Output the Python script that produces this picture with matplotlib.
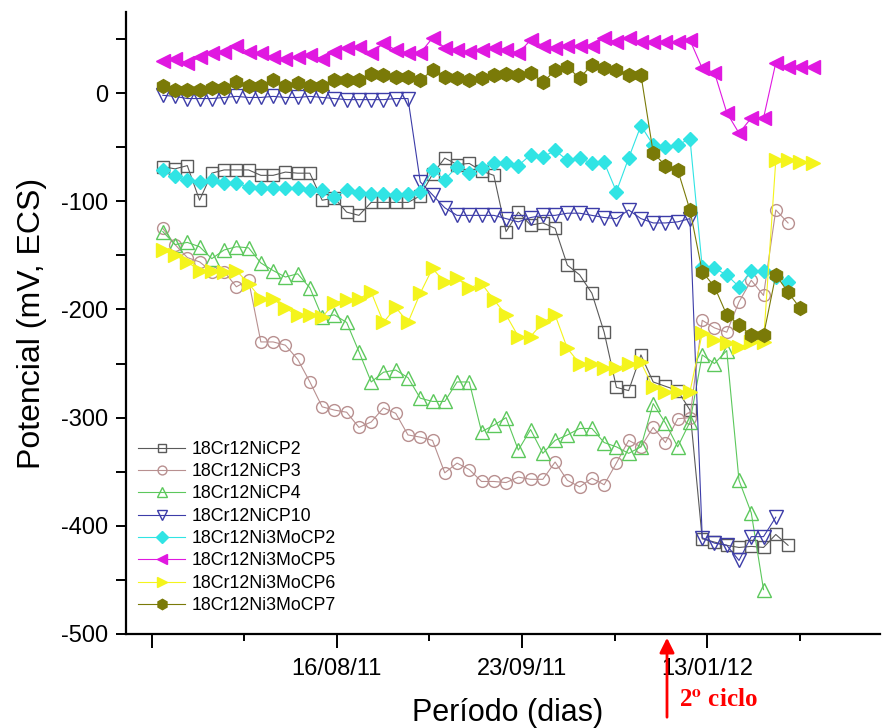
import matplotlib
matplotlib.use("Agg")
import matplotlib.pyplot as plt
from matplotlib.ticker import MultipleLocator, FixedLocator
import numpy as np

plt.rcParams['font.family'] = ['Liberation Sans', 'DejaVu Sans']
plt.rcParams['mathtext.fontset'] = 'stix'
plt.rcParams['axes.unicode_minus'] = False

# potencial (mV vs ECS) de cada probeta, una lectura por dia de medida
cp2_ni = [-68, -70, -67, -99, -74, -71, -71, -71, -76, -76, -73, -74, -74, -99, -97,
          -110, -113, -101, -101, -101, -101,
          -95, -75, -60, -66, -65, -72, -76, -128, -110, -122, -120, -125, -159, -168,
          -185, -221, -272, -275, -242, -267, -271, -275, -293,
          -412, -415, -418, -420, -419, -420, -408, -418]
cp3_ni = [-125, -140, -152, -156, -165, -165, -179, -173, -230, -230, -233, -246, -267,
          -290, -293, -295, -309, -304, -291, -296, -316,
          -318, -321, -351, -342, -348, -359, -359, -360, -355, -357, -357, -341, -358,
          -364, -356, -362, -342, -321, -327, -309, -323, -301, -300,
          -210, -217, -221, -193, -173, -187, -108, -120]
cp4_ni = [-128, -140, -138, -142, -153, -145, -142, -143, -157, -164, -170, -167, -180,
          -207, -205, -212, -239, -267, -258, -256, -263,
          -282, -285, -285, -267, -267, -313, -307, -300, -330, -311, -333, -321, -316,
          -310, -310, -323, -327, -333, -327, -287, -305, -327, -304,
          -242, -250, -238, -358, -388, -459]
cp10_ni = [-2, -3, -5, -5, -5, -4, -3, -4, -4, -3, -4, -4, -3, -4, -5, -6, -6, -6, -6, -5, -5,
           -82, -94, -106, -113, -113, -113, -113, -116, -119, -115, -113, -113, -111,
           -111, -113, -115, -116, -108, -116, -120, -120, -119, -116,
           -411, -416, -418, -432, -410, -410, -392]
cp2_mo = [-71, -77, -80, -82, -80, -83, -83, -87, -88, -88, -88, -88, -90, -90, -96, -90,
          -92, -93, -93, -94, -93,
          -91, -71, -80, -68, -74, -69, -65, -65, -67, -57, -59, -53, -62, -60, -65, -64,
          -91, -60, -30, -48, -50, -48, -42,
          -161, -162, -168, -179, -164, -164, -170, -175]
cp5_mo = [30, 32, 28, 33, 37, 38, 44, 38, 37, 33, 32, 33, 35, 32, 38, 42, 43, 37, 46, 40,
          37, 37, 51,
          42, 40, 38, 40, 42, 40, 37, 49, 44, 42, 44, 44, 44, 51, 47, 51, 47, 47, 47, 47, 49,
          23, 19, -18, -37, -23, -23, 28, 24, 24, 24]
cp6_mo = [-145, -150, -156, -164, -164, -165, -164, -176, -190, -190, -199, -205, -205,
          -207, -194, -191, -190, -184, -212, -198, -212, -185, -162, -175, -171, -180,
          -176, -191,
          -205, -225, -225, -212, -205, -236, -250, -250, -254, -254, -250, -249, -272,
          -276, -276, -276, -222, -228, -231, -235, -230, -230, -62, -62, -64, -65]
cp7_mo = [7, 3, 3, 3, 5, 5, 10, 7, 7, 12, 7, 9, 7, 7, 12, 12, 12, 18, 17, 15, 15,
          12, 21, 15, 14, 12, 14, 17, 18, 17, 19, 10, 21, 24, 14, 26, 23, 21, 17, 17,
          -55, -67, -71, -108, -165, -179, -205, -214, -224, -224, -168, -184, -199]

nombres = ['18Cr12NiCP2', '18Cr12NiCP3', '18Cr12NiCP4', '18Cr12NiCP10',
           '18Cr12Ni3MoCP2', '18Cr12Ni3MoCP5', '18Cr12Ni3MoCP6', '18Cr12Ni3MoCP7']
series = [cp2_ni, cp3_ni, cp4_ni, cp10_ni, cp2_mo, cp5_mo, cp6_mo, cp7_mo]

fechas = ['', '16/08/11', '23/09/11', '13/01/12']

# estilo de cada curva: (marcador, color, relleno, tamano)
estilos = [('s', '#5a5a5a', 'none', 8),
           ('o', '#b89090', 'none', 8.5),
           ('^', '#5cc85c', 'none', 9.5),
           ('v', '#3c3ca8', 'none', 9.5),
           ('D', '#30e4e4', '#30e4e4', 7.5),
           ('<', '#e018e0', '#e018e0', 10),
           ('>', '#f4f41c', '#f4f41c', 10),
           ('h', '#7a7a08', '#7a7a08', 10)]

fig = plt.figure(figsize=(8.84, 7.28), dpi=100)
ax = fig.add_axes([126/884, 1-634/728, 754/884, 622/728])

for y, nom, (m, c, fc, ms) in zip(series, nombres, estilos):
    x = np.arange(len(y))
    ax.plot(x, y, marker=m, color=c, markerfacecolor=fc, markeredgecolor=c,
            markersize=ms, markeredgewidth=1.0, linewidth=0.8, label=nom)

ax.set_ylim(-500, 75)
ax.set_xlim(-3.0, 58.5)

# ejes estilo Origin: solo izquierda y abajo
for lado in ['top', 'right']:
    ax.spines[lado].set_visible(False)
for lado in ['left', 'bottom']:
    ax.spines[lado].set_linewidth(1.6)

ax.yaxis.set_major_locator(MultipleLocator(100))
ax.yaxis.set_minor_locator(MultipleLocator(50))
paso = 7.55
x0 = -0.9
ax.xaxis.set_major_locator(FixedLocator([x0 + 2*k*paso for k in range(4)]))
ax.xaxis.set_minor_locator(FixedLocator([x0 + (2*k+1)*paso for k in range(4)]))
ax.set_xticklabels(fechas)
ax.tick_params(axis='y', which='both', direction='out', length=7, width=1.4,
               labelsize=17, pad=6)
ax.tick_params(axis='x', which='major', direction='out', length=10, width=1.4,
               labelsize=17, pad=7)
ax.tick_params(axis='x', which='minor', direction='out', length=5, width=1.4)

ax.set_ylabel('Potencial (mV, ECS)', fontsize=23, labelpad=10)
fig.text(508/884, 1-713/728, 'Período (dias)', fontsize=22, ha='center', va='center')

leg = ax.legend(loc='upper left', bbox_to_anchor=(0.007, 0.322), frameon=False,
                fontsize=12.8, handlelength=2.6, labelspacing=0.3, markerscale=0.75,
                handletextpad=0.4, borderaxespad=0)

# flecha de inicio del segundo ciclo
fig.add_artist(matplotlib.patches.FancyArrowPatch(
    (667/884, 1-720/728), (667/884, 1-635/728), transform=fig.transFigure,
    arrowstyle='-|>', mutation_scale=22, color='red', linewidth=2))
fig.text(679/884, 1-699/728, r'2$^{\mathbf{o}}$ ciclo', color='red', fontsize=18,
         fontweight='bold', family='Liberation Serif', va='center')

fig.savefig('out.png', dpi=100)
